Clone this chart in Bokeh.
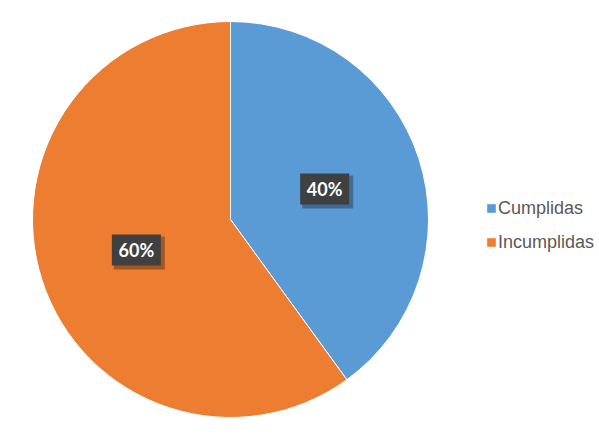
import numpy as np
from bokeh.plotting import figure
from bokeh.models import Range1d, Legend, LegendItem, ColumnDataSource
from bokeh.core.properties import value
from bokeh.embed import file_html
from bokeh.resources import INLINE

categories = ["Cumplidas", "Incumplidas"]
values = [40, 60]
colors = ["#5B9BD5", "#ED7D31"]
labels = ["40%", "60%"]

W, H = 599, 444
p = figure(width=W, height=H, output_backend="svg", toolbar_location=None,
           x_range=Range1d(0, W), y_range=Range1d(0, H),
           min_border=0, x_axis_location=None, y_axis_location=None)
p.grid.visible = False
p.outline_line_color = None
p.background_fill_color = "white"

cx, cy, R = 230, 444 - 219, 198
vals = np.array(values, dtype=float)
frac = vals / vals.sum()
cum = np.concatenate([[0], np.cumsum(frac)])
end_angles = np.pi / 2 - 2 * np.pi * cum[:-1]
start_angles = np.pi / 2 - 2 * np.pi * cum[1:]
mid = (start_angles + end_angles) / 2

renderers = []
for i, cat in enumerate(categories):
    r = p.wedge(x=cx, y=cy, radius=R, start_angle=start_angles[i], end_angle=end_angles[i],
                fill_color=colors[i], line_color="white", line_width=1)
    renderers.append(r)

lr = 0.5 * R
lx = cx + lr * np.cos(mid)
ly = cy + lr * np.sin(mid)
src = ColumnDataSource(dict(x=lx, y=ly, sx=lx + 3, sy=ly - 3, t=labels))
p.rect(x="sx", y="sy", width=51, height=33, source=src, fill_color="black",
       fill_alpha=0.3, line_color=None)
p.rect(x="x", y="y", width=49, height=31, source=src, fill_color="#404040",
       line_color=None)
p.text(x="x", y="y", text="t", source=src, text_color="white", text_align="center",
       text_baseline="middle", text_font=value("Lato"), text_font_style="bold",
       text_font_size="18px")

legend = Legend(items=[LegendItem(label=c, renderers=[r]) for c, r in zip(categories, renderers)],
                location=(485, 190), orientation="vertical", padding=0, margin=0,
                spacing=10, glyph_width=12, glyph_height=12, label_height=24,
                label_standoff=1, label_text_font="Liberation Sans",
                label_text_font_size="18px", label_text_color="#595959",
                border_line_color=None, background_fill_alpha=0)
p.add_layout(legend, "center")

open("out.html", "w").write(file_html(p, INLINE))
